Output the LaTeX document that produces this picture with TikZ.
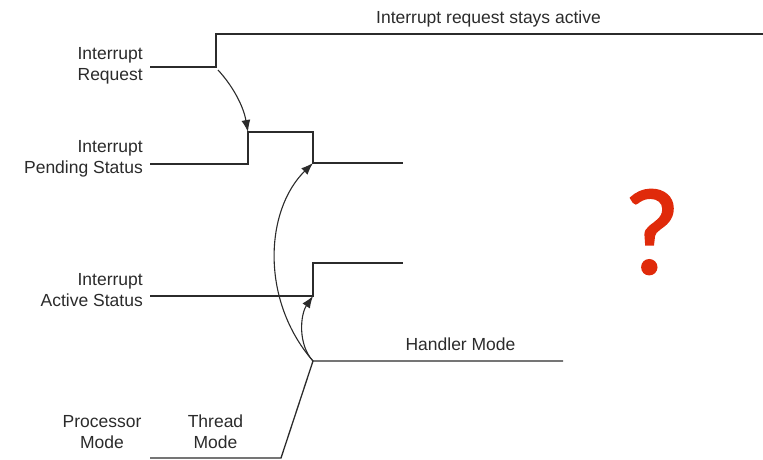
\documentclass[tikz,border=0pt]{standalone}
\usepackage{fontspec}
\setmainfont{Liberation Sans}
\newfontfamily\qfont{Lato}[FakeBold=1.6]
\usetikzlibrary{arrows.meta}
\definecolor{ink}{HTML}{2B2B2B}
\definecolor{qred}{HTML}{E02A0A}
\begin{document}
\begin{tikzpicture}[x=1pt,y=-1pt,
  wave/.style={draw=ink,line width=1.3pt,line join=miter},
  cause/.style={draw=ink,line width=1.1pt,-{Latex[length=12pt,width=9pt]}},
  lbl/.style={text=ink,font=\fontsize{17.5}{21}\selectfont,inner sep=0pt},
  rlbl/.style={lbl,align=right,anchor=east},
  clbl/.style={lbl,align=center}]
\useasboundingbox (0,0) rectangle (763,459);
% waveform points
\coordinate (r0) at (150,67); \coordinate (r1) at (216,67);
\coordinate (r2) at (216,34); \coordinate (r3) at (763,34);
\coordinate (p0) at (150,164); \coordinate (p1) at (248,164);
\coordinate (p2) at (248,132); \coordinate (p3) at (313,132);
\coordinate (p4) at (313,163); \coordinate (p5) at (403,163);
\coordinate (a0) at (150,296); \coordinate (a1) at (313,296);
\coordinate (a2) at (313,263); \coordinate (a3) at (403,263);
\coordinate (m0) at (150,458); \coordinate (m1) at (281,458);
\coordinate (m2) at (313,361); \coordinate (m3) at (563,361);
% waveforms
\draw[wave] (r0) -- (r1) -- (r2) -- (r3);
\draw[wave] (p0) -- (p1) -- (p2) -- (p3) -- (p4) -- (p5);
\draw[wave] (a0) -- (a1) -- (a2) -- (a3);
\draw[wave] (m0) -- (m1) -- (m2) -- (m3);
% causal arrows
\coordinate (rq) at (218,70);
\draw[cause] (rq) .. controls (231,84) and (243,104) .. (p2);
\draw[cause] (m2) .. controls (260,300) and (265,210) .. (p4);
\draw[cause] (m2) .. controls (298,345) and (300,315) .. (a1);
% labels
\node[lbl] (stay) at (488.5,19) {Interrupt request stays active};
\node[rlbl] (lreq) at (143,66) {Interrupt\\Request};
\node[rlbl] (lpend) at (143,159) {Interrupt\\Pending Status};
\node[rlbl] (lact) at (143,290) {Interrupt\\Active Status};
\node[lbl] (hand) at (460.5,344) {Handler Mode};
\node[clbl] (proc) at (102,432) {Processor\\Mode};
\node[clbl] (thr) at (215.5,432) {Thread\\Mode};
\node[text=qred,font=\qfont\fontsize{116}{116}\selectfont,inner sep=0pt] (q) at (652,232) {?};
\end{tikzpicture}
\end{document}
